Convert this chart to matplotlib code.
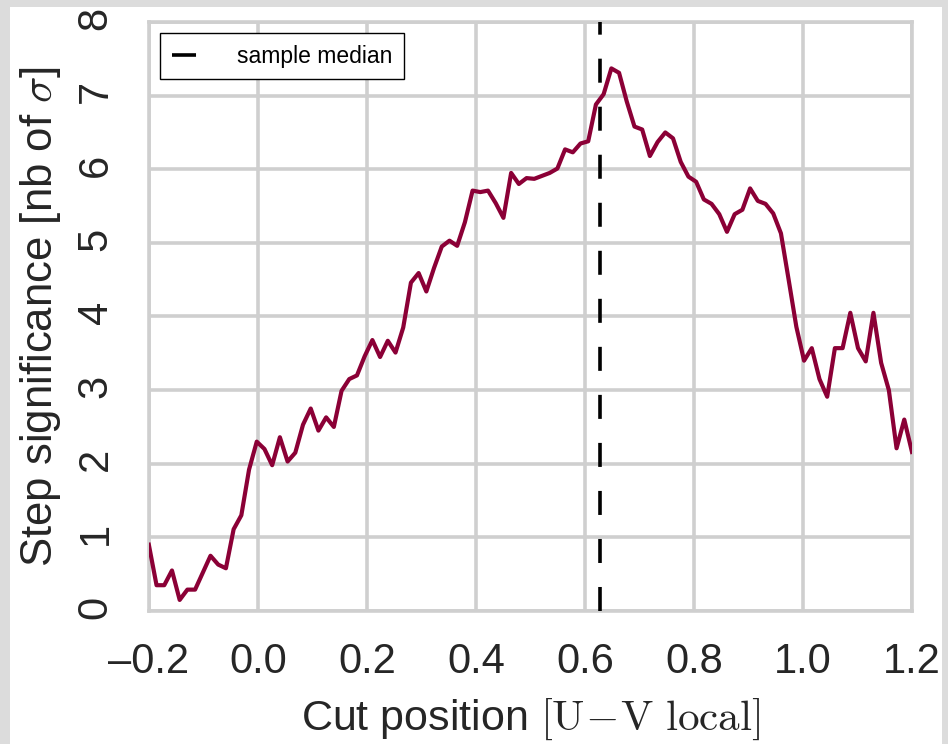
import numpy as np
import matplotlib
matplotlib.use('agg')
import matplotlib.pyplot as plt
from matplotlib.patches import Rectangle

plt.rcParams['font.family'] = ['Liberation Sans', 'DejaVu Sans']
plt.rcParams['mathtext.fontset'] = 'cm'

# cut positions and the step significance at each cut
cut_lo, cut_hi, n_cuts = -0.2, 1.2, 100
significance = [
    0.90, 0.35, 0.35, 0.55, 0.15, 0.29, 0.29, 0.52, 0.75, 0.63,
    0.58, 1.11, 1.30, 1.92, 2.30, 2.20, 1.98, 2.36, 2.03, 2.15,
    2.53, 2.75, 2.45, 2.63, 2.50, 2.99, 3.15, 3.20, 3.46, 3.68,
    3.45, 3.67, 3.51, 3.85, 4.46, 4.59, 4.34, 4.66, 4.95, 5.03,
    4.96, 5.28, 5.71, 5.69, 5.71, 5.54, 5.34, 5.95, 5.80, 5.88,
    5.87, 5.91, 5.95, 6.01, 6.27, 6.23, 6.35, 6.38, 6.88, 7.02,
    7.37, 7.31, 6.92, 6.58, 6.54, 6.18, 6.37, 6.50, 6.42, 6.10,
    5.90, 5.83, 5.59, 5.53, 5.39, 5.15, 5.39, 5.45, 5.74, 5.57,
    5.53, 5.40, 5.13, 4.50, 3.86, 3.40, 3.57, 3.15, 2.91, 3.57,
    3.57, 4.05, 3.57, 3.39, 4.05, 3.37, 3.00, 2.21, 2.60, 2.16,
]
sample_median = 0.6275
x_ticks = [-0.2, 0.0, 0.2, 0.4, 0.6, 0.8, 1.0, 1.2]
y_ticks = [0, 1, 2, 3, 4, 5, 6, 7, 8]

cuts = np.linspace(cut_lo, cut_hi, n_cuts)

fig = plt.figure(figsize=(9.48, 7.44), dpi=100)
fig.patch.set_facecolor('#dcdcdc')
# white page behind the plot
fig.add_artist(Rectangle((10 / 948, 0), 932 / 948, 737 / 744,
                         transform=fig.transFigure, facecolor='white',
                         edgecolor='none', zorder=-10))

ax = fig.add_axes([0.157, 0.1788, 0.805, 0.7916])
ax.set_facecolor('white')
ax.grid(True, color='#cfcfcf', linewidth=2.6)
ax.set_axisbelow(True)
for sp in ax.spines.values():
    sp.set_color('#cfcfcf')
    sp.set_linewidth(2.6)

ax.plot(cuts, significance, color='#8b0036', linewidth=3.0, zorder=3)
ax.axvline(sample_median, color='black', linewidth=2.6,
           linestyle=(0, (6.65, 6.65)), label='sample median', zorder=4)

ax.set_xlim(cut_lo, cut_hi)
ax.set_ylim(0, 8)
ax.set_xticks(x_ticks)
ax.set_xticklabels(['%.1f' % t if t >= 0 else '\u2013%.1f' % -t for t in x_ticks])
ax.set_yticks(y_ticks)
ax.tick_params(axis='both', length=0, labelsize=30, colors='#262626')
ax.tick_params(axis='x', pad=22)
ax.tick_params(axis='y', pad=24, labelrotation=90)

ax.set_xlabel(r'Cut position $[\mathrm{U\!-\!V\ local}]$', fontsize=31,
              color='#262626', labelpad=11)
ax.set_ylabel(r'Step significance [nb of $\sigma$]', fontsize=31.5,
              color='#262626', labelpad=9)

leg = ax.legend(loc='upper left', fontsize=16.5, fancybox=False, framealpha=1,
                handletextpad=0.85, borderpad=0.5)
leg.get_frame().set_edgecolor('black')
leg.get_frame().set_linewidth(1.0)

fig.savefig('out.png', dpi=100, facecolor=fig.get_facecolor())
